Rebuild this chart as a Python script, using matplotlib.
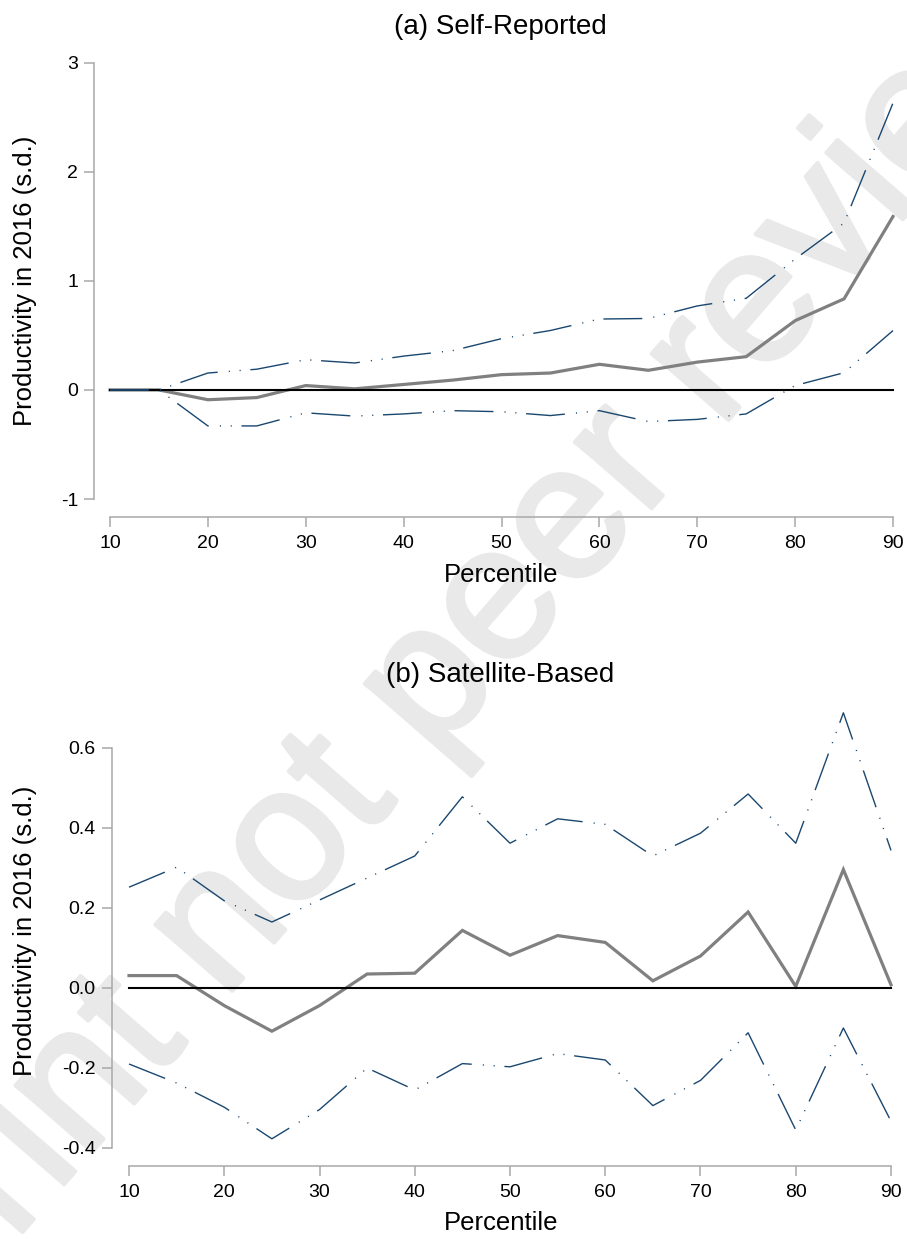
import matplotlib
matplotlib.use('Agg')
import matplotlib.pyplot as plt
import matplotlib.patheffects as pe


# ---------------------------------------------------
# DATOS
# ---------------------------------------------------
PERCENTILES = [10, 15, 20, 25, 30, 35, 40, 45, 50, 55, 60, 65, 70, 75, 80, 85, 90]

# (a) Self-Reported
SELF_EST = [0, 0, -0.09, -0.07, 0.04, 0.01, 0.05, 0.09, 0.14, 0.155, 0.235, 0.18, 0.255, 0.305, 0.635, 0.835, 1.59]
SELF_HI = [0, 0, 0.155, 0.19, 0.277, 0.247, 0.31, 0.36, 0.47, 0.545, 0.65, 0.655, 0.77, 0.84, 1.2, 1.53, 2.63]
SELF_LO = [0, 0, -0.33, -0.33, -0.21, -0.24, -0.22, -0.19, -0.2, -0.235, -0.19, -0.29, -0.27, -0.22, 0.04, 0.158, 0.544]
SELF_YTICKS = [-1, 0, 1, 2, 3]
SELF_YLABELS = ['-1', '0', '1', '2', '3']

# (b) Satellite-Based
SAT_EST = [0.031, 0.031, -0.044, -0.108, -0.044, 0.035, 0.037, 0.144, 0.082, 0.131, 0.114, 0.018, 0.08, 0.19, 0.004, 0.296, 0.008]
SAT_HI = [0.252, 0.302, 0.218, 0.165, 0.22, 0.275, 0.33, 0.478, 0.362, 0.423, 0.409, 0.33, 0.387, 0.485, 0.362, 0.688, 0.344]
SAT_LO = [-0.19, -0.2375, -0.298, -0.377, -0.304, -0.2, -0.255, -0.189, -0.197, -0.164, -0.18, -0.294, -0.231, -0.112, -0.355, -0.1, -0.333]
SAT_YTICKS = [-0.4, -0.2, 0.0, 0.2, 0.4, 0.6]
SAT_YLABELS = ['-0.4', '-0.2', '0.0', '0.2', '0.4', '0.6']

XTICKS = [10, 20, 30, 40, 50, 60, 70, 80, 90]
# ---------------------------------------------------

W, H = 907, 1239
NAVY = '#1a476f'
GREY_LINE = '#808080'
AXIS_GREY = '#a8a8a8'
WATERMARK = '#e9e9e9'
CI_STYLE = (0, (28, 8, 0.8, 7, 0.8, 7))

plt.rcParams['font.family'] = ['Liberation Sans', 'DejaVu Sans']


def px_axes(fig, left, top, right, bottom):
    # rectangulo en pixeles -> coordenadas de figura
    return fig.add_axes([left / W, 1 - bottom / H, (right - left) / W, (bottom - top) / H])


def panel(ax, est, hi, lo, yticks, ylabels, xlim, ylim):
    ax.set_facecolor('none')
    ax.plot(PERCENTILES, est, color=GREY_LINE, lw=2.3, zorder=2, solid_joinstyle='miter')
    ax.plot([PERCENTILES[0], PERCENTILES[-1]], [0, 0], color='black', lw=1.5, zorder=3)
    ax.plot(PERCENTILES, hi, color=NAVY, lw=1.0, linestyle=CI_STYLE, zorder=4)
    ax.plot(PERCENTILES, lo, color=NAVY, lw=1.0, linestyle=CI_STYLE, zorder=4)

    ax.set_xlim(*xlim)
    ax.set_ylim(*ylim)
    ax.set_xticks(XTICKS)
    ax.set_xticklabels([str(x) for x in XTICKS])
    ax.set_yticks(yticks)
    ax.set_yticklabels(ylabels)

    for side in ['top', 'right']:
        ax.spines[side].set_visible(False)
    for side in ['left', 'bottom']:
        ax.spines[side].set_color(AXIS_GREY)
        ax.spines[side].set_linewidth(1.1)
    ax.spines['left'].set_bounds(yticks[0], yticks[-1])
    ax.spines['bottom'].set_bounds(XTICKS[0], XTICKS[-1])

    ax.tick_params(axis='both', direction='out', length=7.5, width=1.1,
                   color=AXIS_GREY, labelcolor='black', labelsize=14)
    ax.tick_params(axis='y', pad=4)
    ax.tick_params(axis='x', pad=5.5)


def main():
    fig = plt.figure(figsize=(W / 100, H / 100), dpi=100)
    fig.patch.set_facecolor('white')

    # marca de agua (trazo un poco engrosado)
    fig.text(455 / W, 1 - 659 / H, 'preprint not peer reviewed', fontsize=138,
             color=WATERMARK, rotation=49, ha='center', va='center',
             rotation_mode='anchor', zorder=-1,
             path_effects=[pe.withStroke(linewidth=3, foreground=WATERMARK)])

    ax_a = px_axes(fig, 94, 50, 900, 517)
    panel(ax_a, SELF_EST, SELF_HI, SELF_LO, SELF_YTICKS, SELF_YLABELS,
          (10 - 16 / 9.78, 90 + 7 / 9.78), (-1 - 18 / 109.1, 3 + 12.7 / 109.1))

    ax_b = px_axes(fig, 111.7, 700, 898, 1165.7)
    panel(ax_b, SAT_EST, SAT_HI, SAT_LO, SAT_YTICKS, SAT_YLABELS,
          (10 - 17.3 / 9.52, 90 + 7 / 9.52), (-0.4 - 17.7 / 400, 0.72))

    fig.text(500 / W, 1 - 27 / H, '(a) Self-Reported', fontsize=20, ha='center', va='center')
    fig.text(500 / W, 1 - 675 / H, '(b) Satellite-Based', fontsize=20, ha='center', va='center')
    fig.text(501 / W, 1 - 575 / H, 'Percentile', fontsize=18.5, ha='center', va='center')
    fig.text(501 / W, 1 - 1223 / H, 'Percentile', fontsize=18.5, ha='center', va='center')
    fig.text(25 / W, 1 - 280.5 / H, 'Productivity in 2016 (s.d.)', fontsize=18.5,
             rotation=90, ha='center', va='center')
    fig.text(25 / W, 1 - 930.6 / H, 'Productivity in 2016 (s.d.)', fontsize=18.5,
             rotation=90, ha='center', va='center')

    fig.savefig('out.png', dpi=100)


if __name__ == '__main__':
    main()
